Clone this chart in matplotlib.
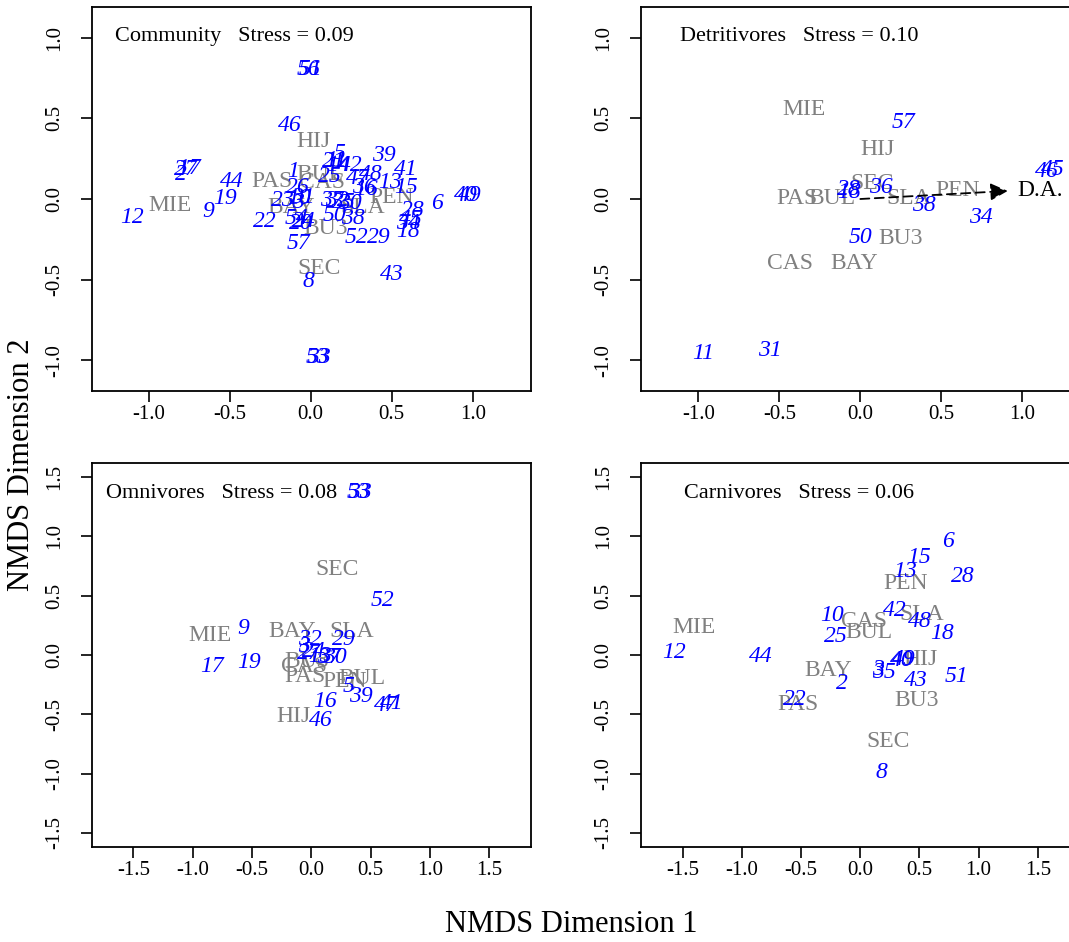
import matplotlib
matplotlib.use("Agg")
import matplotlib.pyplot as plt

plt.rcParams['font.family'] = ['Liberation Serif', 'DejaVu Serif']
plt.rcParams['axes.unicode_minus'] = False

# ---- Community ----
com_sites = ["MIE", "PAS", "BUL", "CAS", "HIJ", "PEN", "SLA", "BAY", "BU3", "SEC"]
com_site_x = [-0.87, -0.24, 0.06, 0.07, 0.02, 0.50, 0.32, -0.12, 0.09, 0.05]
com_site_y = [-0.04, 0.11, 0.15, 0.10, 0.354, 0.01, -0.05, -0.05, -0.18, -0.43]
com_spp = ["56", "51", "46", "5", "39", "2", "27", "17", "44", "1", "41", "13",
           "15", "48", "42", "21", "11", "14", "25", "47", "16", "36", "26",
           "23", "10", "31", "3", "37", "32", "35", "30", "54", "22", "20",
           "24", "50", "38", "57", "52", "29", "28", "34", "45", "18", "6",
           "40", "49", "12", "9", "19", "43", "8", "53", "33"]
com_spp_x = [-0.015, 0.0, -0.128, 0.18, 0.45, -0.80, -0.77, -0.75, -0.49, -0.11,
             0.59, 0.49, 0.59, 0.37, 0.25, 0.14, 0.16, 0.17, 0.12, 0.29, 0.34,
             0.33, -0.08, -0.17, -0.07, -0.05, -0.08, 0.13, 0.16, 0.20, 0.24,
             -0.09, -0.28, -0.06, -0.04, 0.15, 0.26, -0.077, 0.28, 0.42, 0.63,
             0.60, 0.62, 0.60, 0.78, 0.96, 0.98, -1.105, -0.63, -0.53, 0.50,
             -0.015, 0.04, 0.05]
com_spp_y = [0.80, 0.80, 0.457, 0.28, 0.27, 0.15, 0.18, 0.19, 0.11, 0.17,
             0.18, 0.10, 0.07, 0.15, 0.21, 0.23, 0.24, 0.21, 0.14, 0.13, 0.06,
             0.07, 0.07, -0.01, 0.0, 0.01, -0.02, -0.01, -0.01, -0.02, -0.03,
             -0.12, -0.14, -0.15, -0.14, -0.10, -0.12, -0.278, -0.24, -0.24,
             -0.07, -0.15, -0.13, -0.20, -0.03, 0.02, 0.02, -0.113, -0.08, 0.0,
             -0.47, -0.51, -0.98, -0.98]

# ---- Detritivores ----
det_sites = ["MIE", "HIJ", "SEC", "PAS", "BUL", "SLA", "PEN", "BU3", "CAS", "BAY"]
det_site_x = [-0.346, 0.103, 0.072, -0.39, -0.175, 0.30, 0.60, 0.247, -0.432, -0.04]
det_site_y = [0.556, 0.309, 0.093, 0.0, 0.0, 0.0, 0.05, -0.247, -0.40, -0.40]
det_spp = ["57", "46", "45", "36", "28", "18", "38", "34", "50", "11", "31"]
det_spp_x = [0.267, 1.15, 1.19, 0.13, -0.07, -0.07, 0.39, 0.745, 0.0, -0.97, -0.56]
det_spp_y = [0.477, 0.17, 0.18, 0.07, 0.06, 0.04, -0.04, -0.117, -0.237, -0.957, -0.94]
det_vec = [0.91, 0.05]

# ---- Omnivores ----
omn_sites = ["SEC", "MIE", "BAY", "SLA", "BU3", "CAS", "PAS", "BUL", "PEN", "HIJ"]
omn_site_x = [0.216, -0.85, -0.163, 0.343, -0.04, -0.065, -0.05, 0.427, 0.28, -0.154]
omn_site_y = [0.72, 0.163, 0.197, 0.197, -0.056, -0.10, -0.178, -0.197, -0.22, -0.52]
omn_spp = ["53", "33", "52", "9", "32", "29", "3", "24", "27", "13", "37", "30",
           "17", "19", "5", "39", "16", "47", "41", "46"]
omn_spp_x = [0.40, 0.41, 0.60, -0.575, -0.008, 0.272, -0.065, 0.02, -0.02, 0.07,
             0.15, 0.20, -0.837, -0.528, 0.314, 0.418, 0.118, 0.63, 0.68, 0.084]
omn_spp_y = [1.37, 1.37, 0.456, 0.225, 0.127, 0.127, 0.07, 0.03, 0.01, -0.01,
             -0.02, -0.02, -0.093, -0.065, -0.268, -0.352, -0.394, -0.43, -0.41,
             -0.55]

# ---- Carnivores ----
car_sites = ["PEN", "SLA", "CAS", "BUL", "MIE", "HIJ", "BAY", "BU3", "PAS", "SEC"]
car_site_x = [0.38, 0.52, 0.034, 0.07, -1.408, 0.507, -0.268, 0.473, -0.53, 0.239]
car_site_y = [0.604, 0.34, 0.284, 0.191, 0.228, -0.042, -0.132, -0.38, -0.42, -0.729]
car_spp = ["6", "15", "13", "28", "42", "48", "10", "25", "18", "12", "44",
           "40", "49", "3", "35", "2", "43", "51", "22", "8"]
car_spp_x = [0.737, 0.50, 0.38, 0.867, 0.296, 0.507, -0.239, -0.203, 0.69,
             -1.571, -0.836, 0.352, 0.37, 0.15, 0.197, -0.155, 0.473, 0.81,
             -0.549, 0.183]
car_spp_y = [0.956, 0.818, 0.703, 0.663, 0.374, 0.284, 0.332, 0.154, 0.177,
             0.022, -0.012, -0.048, -0.04, -0.12, -0.147, -0.24, -0.217, -0.183,
             -0.371, -0.99]

W, H = 1069, 942
fig = plt.figure(figsize=(W / 100, H / 100), dpi=100)


def px_axes(left, top, right, bottom):
    # axes placed by pixel box (origin top-left)
    return fig.add_axes([left / W, 1 - bottom / H, (right - left) / W,
                         (bottom - top) / H])


def plot_nmds(ax, sites, sx, sy, spp, px, py, title, tx, ty, xlim, ylim, ticks):
    for lab, x, y in zip(sites, sx, sy):
        ax.text(x, y, lab, color='#808080', fontsize=17, ha='center',
                va='center', zorder=2)
    for lab, x, y in zip(spp, px, py):
        ax.text(x, y, lab, color='#0000FF', fontsize=17, style='italic',
                ha='center', va='center', zorder=3)
    ax.text(tx, ty, title, transform=ax.transAxes, fontsize=16,
            ha='left', va='center')
    ax.set_xlim(xlim)
    ax.set_ylim(ylim)
    ax.set_xticks(ticks)
    ax.set_yticks(ticks)
    ax.set_xticklabels(['%.1f' % t for t in ticks])
    ax.set_yticklabels(['%.1f' % t for t in ticks], rotation=90, va='center')
    ax.tick_params(axis='both', direction='out', length=8, width=1.2,
                   labelsize=15)
    ax.tick_params(axis='x', pad=2)
    ax.tick_params(axis='y', pad=12)
    for s in ax.spines.values():
        s.set_linewidth(1.3)


t1 = [-1.0, -0.5, 0.0, 0.5, 1.0]
t2 = [-1.5, -1.0, -0.5, 0.0, 0.5, 1.0, 1.5]

ax1 = px_axes(92, 7, 531, 391)
plot_nmds(ax1, com_sites, com_site_x, com_site_y, com_spp, com_spp_x,
          com_spp_y, "Community   Stress = 0.09", 0.052, 0.922,
          (-1.35, 1.36), (-1.19, 1.19), t1)

ax2 = px_axes(641, 7, 1080, 391)
plot_nmds(ax2, det_sites, det_site_x, det_site_y, det_spp, det_spp_x,
          det_spp_y, "Detritivores   Stress = 0.10", 0.089, 0.922,
          (-1.354, 1.356), (-1.19, 1.19), t1)
# fitted vector for D.A.
ax2.annotate("", xy=(det_vec[0], det_vec[1]), xytext=(0, 0),
             arrowprops=dict(arrowstyle='-|>', linestyle=(0, (5, 3)),
                             color='black', lw=1.3, mutation_scale=26,
                             shrinkA=0, shrinkB=0),
             zorder=4)
ax2.text(det_vec[0] * 1.22, det_vec[1], "D.A.", fontsize=17, ha='center',
         va='center', color='black')

ax3 = px_axes(92, 463, 531, 847)
plot_nmds(ax3, omn_sites, omn_site_x, omn_site_y, omn_spp, omn_spp_x,
          omn_spp_y, "Omnivores   Stress = 0.08", 0.031, 0.921,
          (-1.848, 1.851), (-1.62, 1.62), t2)

ax4 = px_axes(641, 463, 1080, 847)
plot_nmds(ax4, car_sites, car_site_x, car_site_y, car_spp, car_spp_x,
          car_spp_y, "Carnivores   Stress = 0.06", 0.098, 0.921,
          (-1.852, 1.856), (-1.618, 1.618), t2)

fig.text(22 / W, 1 - 465 / H, "NMDS Dimension 2", rotation=90, fontsize=22,
         ha='center', va='center')
fig.text(571 / W, 1 - 925 / H, "NMDS Dimension 1", fontsize=22,
         ha='center', va='center')

fig.savefig("out.png", dpi=100)
